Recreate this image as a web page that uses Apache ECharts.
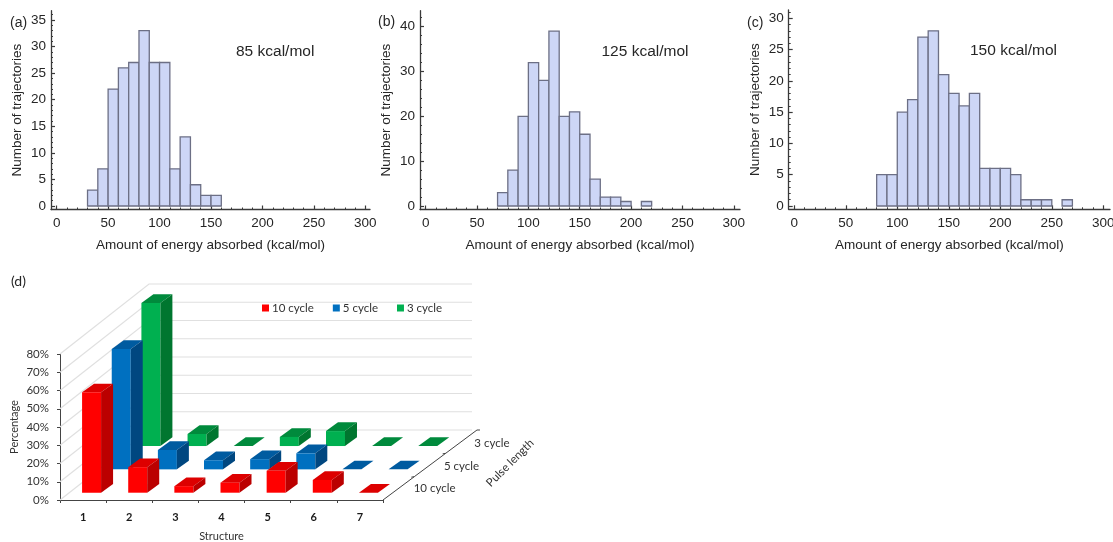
<!DOCTYPE html>
<html>
<head>
<meta charset="utf-8">
<style>html,body{margin:0;padding:0;background:#fff}#c{width:1113px;height:542px}</style>
<script src="https://cdn.jsdelivr.net/npm/echarts@6/dist/echarts.min.js"></script>
</head>
<body>
<div id="c"></div>
<script>
// Histogram data: lower bin edge (kcal/mol) and trajectory count, 10 kcal/mol bins
const binsA = [30,40,50,60,70,80,90,100,110,120,130,140,150];
const countsA = [3,7,22,26,27,33,27,27,7,13,4,2,2];
const binsB = [70,80,90,100,110,120,130,140,150,160,170,180,190,200,210];
const countsB = [3,8,20,32,28,39,20,21,16,6,2,2,1,0,1];
const binsC = [80,90,100,110,120,130,140,150,160,170,180,190,200,210,220,230,240,250,260];
const countsC = [5,5,15,17,27,28,21,18,16,18,6,6,6,5,1,1,1,0,1];
const xTicks = [0,50,100,150,200,250,300];
const yTicksA = [0,5,10,15,20,25,30,35];
const yTicksB = [0,10,20,30,40];
const yTicksC = [0,5,10,15,20,25,30];
const xTitle = 'Amount of energy absorbed (kcal/mol)';
const yTitle = 'Number of trajectories';

// Panel (d)
const structures = ['1','2','3','4','5','6','7'];
const pctTicks = [0,10,20,30,40,50,60,70,80];
const pulseRows = ['10 cycle','5 cycle','3 cycle'];
const cycle10 = [55,14,3.6,5.5,12,7,0];
const cycle5 = [66,10.6,5,5.6,8.8,0,0];
const cycle3 = [78.4,6.6,0,5,8.2,0,0];

const HFONT = '"Liberation Sans",Arial,sans-serif';
const LFONT = 'Lato,"Noto Sans",sans-serif';
const TXT = '#262626';

const grids = [], xAxes = [], yAxes = [], series = [];

function range(a, b, s) { const r = []; for (let v = a; v <= b + 1e-9; v += s) r.push(v); return r; }

function panel(p) {
  const gi = grids.length;
  grids.push({ left: p.left, top: p.top, width: p.width, height: p.height, outerBoundsMode: 'none' });
  const baseX = { type: 'value', gridIndex: gi, position: 'bottom', min: p.xMin, max: p.xMax, splitLine: { show: false } };
  const baseY = { type: 'value', gridIndex: gi, position: 'left', min: p.yMin, max: p.yMax, splitLine: { show: false } };
  const line = { show: true, onZero: false, lineStyle: { color: '#3a3a3a', width: 1.3 } };
  xAxes.push(Object.assign({}, baseX, {
    axisLine: line,
    axisTick: { show: true, inside: true, length: 4, customValues: xTicks, lineStyle: { color: '#3a3a3a', width: 1.2 } },
    axisLabel: { show: true, customValues: xTicks, margin: 7, color: TXT, fontFamily: HFONT, fontSize: 13.5, hideOverlap: false, showMinLabel: true, showMaxLabel: true },
    name: xTitle, nameLocation: 'middle', nameGap: 29, nameMoveOverlap: false,
    nameTextStyle: { color: TXT, fontFamily: HFONT, fontSize: 13.5 }
  }));
  yAxes.push(Object.assign({}, baseY, {
    axisLine: line,
    axisTick: { show: true, inside: true, length: 4, customValues: p.yTicks, lineStyle: { color: '#3a3a3a', width: 1.2 } },
    axisLabel: { show: true, customValues: p.yTicks, margin: 5, color: TXT, fontFamily: HFONT, fontSize: 13.5, hideOverlap: false, showMinLabel: true, showMaxLabel: true },
    name: yTitle, nameLocation: 'middle', nameGap: p.yNameGap, nameMoveOverlap: false,
    nameTextStyle: { color: TXT, fontFamily: HFONT, fontSize: 13.5 }
  }));
  // Second, label-free pair of axes carrying the short minor ticks.
  xAxes.push(Object.assign({}, baseX, {
    axisLine: { show: false, onZero: false },
    axisTick: { show: true, inside: true, length: 2, customValues: range(0, 300, 10), lineStyle: { color: '#3a3a3a', width: 1 } },
    axisLabel: { show: false }
  }));
  yAxes.push(Object.assign({}, baseY, {
    axisLine: { show: false, onZero: false },
    axisTick: { show: true, inside: true, length: 2, customValues: range(0, p.yTicks[p.yTicks.length - 1] + p.minorStep * 2, p.minorStep).filter(v => v <= p.yMax), lineStyle: { color: '#3a3a3a', width: 1 } },
    axisLabel: { show: false }
  }));
  series.push({
    type: 'custom',
    xAxisIndex: xAxes.length - 2, yAxisIndex: yAxes.length - 2,
    encode: { x: 0, y: 1 },
    data: p.bins.map((b, i) => [b, p.counts[i]]),
    renderItem(params, api) {
      const s = api.value(0), c = api.value(1);
      if (!c) return null;
      const a = api.coord([s, 0]), b = api.coord([s + 10, c]);
      return { type: 'rect', shape: { x: a[0], y: b[1], width: b[0] - a[0], height: a[1] - b[1] },
        style: { fill: '#cdd6f6', stroke: '#6c6f85', lineWidth: 1.3 } };
    }
  });
}

panel({ left: 51, top: 10.7, width: 319, height: 198.8, xMin: -5.5, xMax: 304.5, yMin: -0.66, yMax: 36.75,
  yTicks: yTicksA, minorStep: 1, yNameGap: 27, bins: binsA, counts: countsA });
panel({ left: 420, top: 10.7, width: 320, height: 198.8, xMin: -5.5, xMax: 306, yMin: -0.78, yMax: 43.56,
  yTicks: yTicksB, minorStep: 2, yNameGap: 27, bins: binsB, counts: countsB });
panel({ left: 788.7, top: 10, width: 321.3, height: 199.3, xMin: -5.4, xMax: 306.5, yMin: -0.53, yMax: 31.33,
  yTicks: yTicksC, minorStep: 1, yNameGap: 26, bins: binsC, counts: countsC });

// ---------- Panel (d): oblique 3D column chart built on a category/value grid ----------
const DEPTH = [89, -70];          // floor depth vector, style of the projection
const BAR_W = 19, BAR_D = [12, -8.7];
const gd = grids.length;
grids.push({ left: 60, top: 354, width: 323, height: 146, outerBoundsMode: 'none' });
xAxes.push({ type: 'category', gridIndex: gd, position: 'bottom', data: structures,
  axisLine: { show: true, lineStyle: { color: '#444', width: 1 } },
  axisTick: { show: true, length: 3, lineStyle: { color: '#444' } },
  axisLabel: { margin: 12, color: '#1a1a1a', fontFamily: LFONT, fontSize: 11, fontWeight: 'bold' },
  name: 'Structure', nameLocation: 'middle', nameGap: 31, nameMoveOverlap: false,
  nameTextStyle: { color: '#333', fontFamily: LFONT, fontSize: 11 } });
yAxes.push({ type: 'value', gridIndex: gd, position: 'left', min: 0, max: 80, interval: 10,
  splitLine: { show: false },
  axisLine: { show: true, lineStyle: { color: '#444', width: 1 } },
  axisTick: { show: true, length: 3, lineStyle: { color: '#444' } },
  axisLabel: { formatter: '{value}%', margin: 11, color: '#333', fontFamily: LFONT, fontSize: 11.5 },
  name: 'Percentage', nameLocation: 'middle', nameGap: 40, nameMoveOverlap: false,
  nameTextStyle: { color: '#333', fontFamily: LFONT, fontSize: 11 } });
const ixD = xAxes.length - 1, iyD = yAxes.length - 1;

// walls
series.push({
  type: 'custom', xAxisIndex: ixD, yAxisIndex: iyD, encode: { x: 0, y: 1 }, silent: true,
  data: pctTicks.map(v => [0, v]),
  renderItem(params, api) {
    const v = api.value(1), band = api.size([1, 0])[0];
    const a = api.coord([0, v]), z = api.coord([structures.length - 1, v]);
    const l = [a[0] - band / 2, a[1]], r = [z[0] + band / 2, z[1]];
    const pts = [l, [l[0] + DEPTH[0], l[1] + DEPTH[1]], [r[0] + DEPTH[0], r[1] + DEPTH[1]]];
    return { type: 'polyline', shape: { points: pts }, style: { stroke: '#e0e0e0', lineWidth: 1.2, fill: 'none' } };
  }
});

function barSeries(name, row, vals, front, side, top) {
  return {
    name, type: 'custom', xAxisIndex: ixD, yAxisIndex: iyD, encode: { x: 0, y: 1 },
    itemStyle: { color: front },
    data: vals.map((v, i) => [i, v]),
    renderItem(params, api) {
      const i = api.value(0), v = api.value(1);
      const b = api.coord([i, 0]), t = api.coord([i, v]);
      const dx = 8.5 + row * DEPTH[0] / 3, dy = -7.3 + row * DEPTH[1] / 3;
      const x0 = b[0] + dx - BAR_W / 2, x1 = x0 + BAR_W;
      const yb = b[1] + dy, yt = t[1] + dy;
      const [ddx, ddy] = BAR_D;
      const children = [
        { type: 'polygon', shape: { points: [[x0, yt], [x1, yt], [x1 + ddx, yt + ddy], [x0 + ddx, yt + ddy]] }, style: { fill: top } }
      ];
      if (v > 0) {
        children.push({ type: 'rect', shape: { x: x0, y: yt, width: BAR_W, height: yb - yt }, style: { fill: front } });
        children.push({ type: 'polygon', shape: { points: [[x1, yt], [x1 + ddx, yt + ddy], [x1 + ddx, yb + ddy], [x1, yb]] }, style: { fill: side } });
      }
      return { type: 'group', children };
    }
  };
}
series.push(barSeries('3 cycle', 2, cycle3, '#00b050', '#00762f', '#008a3c'));
series.push(barSeries('5 cycle', 1, cycle5, '#0070c0', '#004780', '#005ba0'));
series.push(barSeries('10 cycle', 0, cycle10, '#ff0000', '#bb0000', '#dd0000'));

// depth axis with row labels
series.push({
  type: 'custom', xAxisIndex: ixD, yAxisIndex: iyD, encode: { x: 0, y: 1 }, silent: true,
  data: pulseRows.map((r, i) => [structures.length - 1, 0, i]),
  renderItem(params, api) {
    const i = api.value(2), band = api.size([1, 0])[0];
    const c = api.coord([api.value(0), 0]);
    const o = [c[0] + band / 2, c[1]];
    const at = f => [o[0] + DEPTH[0] * 1.056 * f, o[1] + DEPTH[1] * f];
    const end = at((i + 1) / 3), mid = at((i + 0.5) / 3), st = at(i / 3);
    const tickEnd = i < 2 ? [end[0] - 3, end[1] + 0.5] : [end[0] + 3, end[1]];
    return { type: 'group', children: [
      { type: 'polyline', shape: { points: [st, end] }, style: { stroke: '#444', lineWidth: 1, fill: 'none' } },
      { type: 'polyline', shape: { points: [end, tickEnd] }, style: { stroke: '#444', lineWidth: 1, fill: 'none' } },
      { type: 'text', style: { x: mid[0] + 15 - i, y: mid[1] + i, text: pulseRows[i], fill: '#333', font: '11.5px ' + LFONT, align: 'left', verticalAlign: 'middle' } }
    ] };
  }
});

function label(x, y, text, font) {
  return { type: 'text', x, y, silent: true,
    style: { text, fill: TXT, font, align: 'left', verticalAlign: 'middle' } };
}

const chart = echarts.init(document.getElementById('c'), null, { renderer: 'canvas' });
chart.setOption({
  animation: false,
  backgroundColor: '#fff',
  grid: grids, xAxis: xAxes, yAxis: yAxes, series,
  legend: {
    left: 257, top: 297, itemWidth: 7, itemHeight: 7, itemGap: 19, icon: 'rect',
    data: ['10 cycle', '5 cycle', '3 cycle'], selectedMode: false,
    textStyle: { color: '#333', fontFamily: LFONT, fontSize: 11.5, padding: [0, 0, 0, -2] }
  },
  graphic: [
    label(10, 23, '(a)', '14px ' + HFONT),
    label(378, 22, '(b)', '14px ' + HFONT),
    label(747, 23, '(c)', '14px ' + HFONT),
    label(11, 281, '(d)', '14px ' + LFONT),
    label(236, 52, '85 kcal/mol', '15.5px ' + HFONT),
    label(601.5, 52, '125 kcal/mol', '15.5px ' + HFONT),
    label(970, 51, '150 kcal/mol', '15.5px ' + HFONT),
    { type: 'text', x: 510, y: 463, rotation: Math.PI / 4, silent: true,
      style: { text: 'Pulse length', fill: '#333', font: '11.5px ' + LFONT, align: 'center', verticalAlign: 'middle' } }
  ]
});
</script>
</body>
</html>
